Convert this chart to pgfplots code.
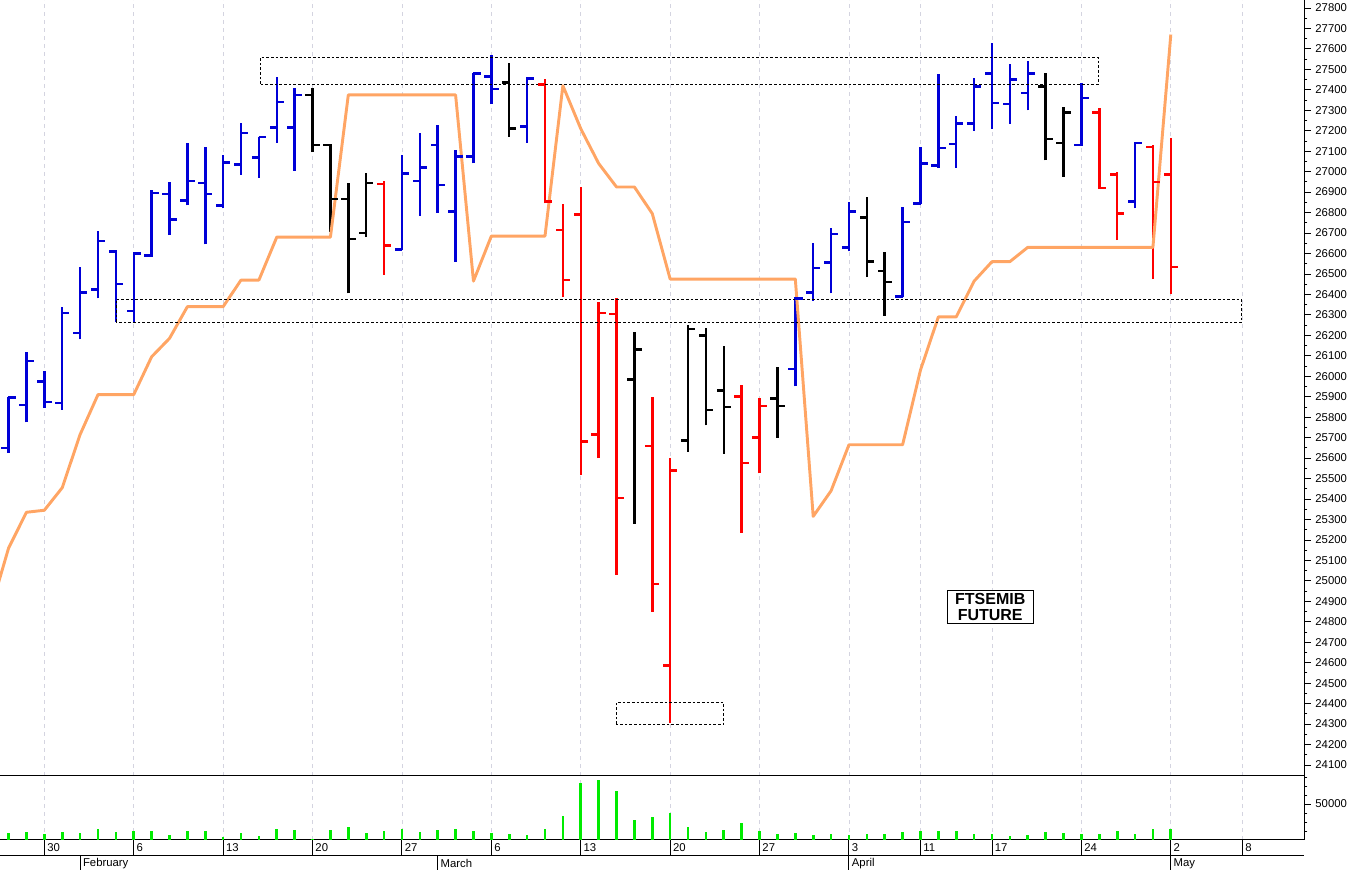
\documentclass[border=0pt]{standalone}
\usepackage{fontspec}
\setmainfont{Liberation Sans}
\usepackage{pgfplots}
\pgfplotsset{compat=1.18}
\usepackage{pgfplotstable}

\definecolor{barblue}{RGB}{0,0,215}
\definecolor{barred}{RGB}{255,0,0}
\definecolor{stopor}{RGB}{255,165,100}
\definecolor{volgreen}{RGB}{0,235,0}
\definecolor{gridc}{RGB}{212,212,224}

\pgfdeclareplotmark{otick}{\pgfpathmoveto{\pgfqpoint{0.3pt}{0pt}}\pgfpathlineto{\pgfqpoint{-5.4pt}{0pt}}\pgfusepathqstroke}
\pgfdeclareplotmark{ctick}{\pgfpathmoveto{\pgfqpoint{-0.3pt}{0pt}}\pgfpathlineto{\pgfqpoint{5.4pt}{0pt}}\pgfusepathqstroke}

\pgfplotsset{
  ohlcrange/.style={sharp plot, draw=none, no markers, forget plot,
    error bars/.cd, y dir=plus, y explicit, error mark=none,
    error bar style={draw=#1, line width=1.85pt}},
  ohlcopen/.style={only marks, color=#1, mark=otick, mark options={draw=#1, line width=1.85pt}, forget plot},
  ohlcclose/.style={only marks, color=#1, mark=ctick, mark options={draw=#1, line width=1.85pt}, forget plot},
}
\newcommand{\ohlc}[2]{%
  \addplot[ohlcrange=#2] table[x=i, y=L, y error expr=\thisrow{H}-\thisrow{L}] {#1};
  \addplot[ohlcopen=#2] table[x=i, y=O] {#1};
  \addplot[ohlcclose=#2] table[x=i, y=C] {#1};
}

\pgfplotstableread{
i O H L C
-2 25650 25900 25625 25895
-1 25860 26120 25775 26075
0 25975 26025 25845 25875
1 25870 26340 25835 26310
2 26210 26535 26180 26410
3 26425 26710 26380 26660
4 26610 26615 26265 26450
5 26320 26600 26265 26600
6 26590 26910 26585 26895
7 26890 26950 26690 26765
8 26860 27140 26835 26955
9 26945 27120 26645 26890
10 26835 27080 26820 27045
11 27035 27240 26985 27190
12 27070 27170 26970 27170
13 27215 27465 27140 27340
14 27215 27410 27005 27375
20 26620 27080 26615 26990
21 26955 27190 26785 27020
22 27130 27230 26800 26935
23 26805 27105 26560 27075
24 27075 27480 27040 27480
25 27465 27570 27330 27405
27 27220 27465 27140 27455
42 26035 26385 25950 26380
43 26410 26650 26370 26530
44 26555 26725 26405 26695
45 26630 26850 26610 26805
48 26390 26825 26385 26755
49 26845 27120 26840 27040
50 27030 27475 27020 27115
51 27135 27270 27020 27235
52 27235 27460 27200 27415
53 27480 27630 27210 27335
54 27330 27525 27235 27450
55 27385 27540 27300 27480
58 27130 27435 27125 27360
61 26855 27145 26820 27140
}\bluebars

\pgfplotstableread{
i O H L C
15 27375 27410 27095 27130
16 27130 27135 26705 26865
17 26865 26945 26405 26670
18 26700 26995 26680 26945
26 27435 27530 27170 27210
33 25985 26215 25280 26130
36 25685 26250 25630 26230
37 26200 26235 25760 25835
38 25930 26150 25620 25850
41 25890 26045 25700 25855
46 26775 26875 26485 26560
47 26515 26605 26295 26460
56 27415 27480 27055 27160
57 27140 27315 26975 27290
}\blackbars

\pgfplotstableread{
i O H L C
19 26940 26955 26495 26640
28 27425 27455 26845 26855
29 26715 26840 26385 26470
30 26790 26925 25515 25680
31 25715 26365 25600 26310
32 26305 26380 25030 25405
34 25660 25900 24850 24985
35 24585 25600 24305 25540
39 25900 25955 25235 25575
40 25700 25895 25525 25855
59 27290 27310 26915 26920
60 26985 27000 26665 26795
62 27120 27130 26475 26950
63 26985 27165 26400 26535
}\redbars

\pgfplotstableread{
i v
-3 24860
-2 25160
-1 25335
0 25345
1 25455
2 25715
3 25910
4 25910
5 25910
6 26095
7 26185
8 26340
9 26340
10 26340
11 26470
12 26470
13 26680
14 26680
15 26680
16 26680
17 27375
18 27375
19 27375
20 27375
21 27375
22 27375
23 27375
24 26465
25 26685
26 26685
27 26685
28 26685
29 27420
30 27210
31 27040
32 26925
33 26925
34 26795
35 26475
36 26475
37 26475
38 26475
39 26475
40 26475
41 26475
42 26475
43 25315
44 25440
45 25665
46 25665
47 25665
48 25665
49 26030
50 26290
51 26290
52 26465
53 26560
54 26560
55 26630
56 26630
57 26630
58 26630
59 26630
60 26630
61 26630
62 26630
63 27670
}\stopline

\pgfplotstableread{
i v
-2 9300
-1 11100
0 8300
1 11100
2 9300
3 15700
4 11100
5 12100
6 12500
7 6900
8 12100
9 12100
10 4200
11 9300
12 6000
13 15300
14 13500
15 1400
16 13900
17 17600
18 9300
19 12500
20 14900
21 11100
22 13900
23 14900
24 12100
25 9700
26 7900
27 6500
28 15700
29 33300
30 79600
31 83300
32 68100
33 27800
34 31900
35 37500
36 18100
37 11100
38 13500
39 24000
40 12100
41 8300
42 9300
43 6900
44 8300
45 6500
46 8300
47 8300
48 11100
49 12100
50 12500
51 12100
52 8300
53 8300
54 6000
55 6500
56 11100
57 9700
58 8300
59 8300
60 12100
61 7900
62 15300
63 14900
}\volume

\pgfplotsset{
  chartbase/.style={
    scale only axis, width=978pt,
    xmin=-2.48, xmax=70.45,
    axis x line*=bottom, axis y line*=right,
    axis line style={black, line width=0.75pt},
    xtick={0,5,10,15,20,25,30,35,40,45,49,53,58,63,67},
    xticklabels={}, x tick style={draw=none},
    xmajorgrids,
    major x grid style={gridc, line width=0.6pt, dash pattern=on 3pt off 3pt},
    tick align=outside, major tick length=5pt, minor tick length=2.5pt,
    y tick style={black, line width=0.6pt},
    scaled y ticks=false,
    yticklabel style={font=\fontsize{8.5}{10}\selectfont, black,
      /pgf/number format/.cd, set thousands separator={}, assume math mode=true},
  }
}

\newcommand{\datefont}{\fontsize{8.5}{10}\selectfont}

\begin{document}
\begin{tikzpicture}
\useasboundingbox (0,0) rectangle (1014pt,652.5pt);

% price panel
\begin{axis}[chartbase,
  at={(0pt,70.5pt)}, anchor=south west, height=582pt,
  ymin=24046, ymax=27839,
  ytick={24100,24200,...,27800}, minor y tick num=1,
]
\ohlc{\bluebars}{barblue}
\ohlc{\blackbars}{black}
\ohlc{\redbars}{barred}
\addplot[stopor, line width=2.2pt, line join=round, no markers] table[x=i, y=v] {\stopline};

\draw[black, line width=0.6pt, dash pattern=on 2pt off 1.5pt]
  (axis cs:12.09,27428) rectangle (axis cs:58.95,27559);
\draw[black, line width=0.6pt, dash pattern=on 2pt off 1.5pt]
  (axis cs:4.01,26265) rectangle (axis cs:66.97,26376);
\draw[black, line width=0.6pt, dash pattern=on 2pt off 1.5pt]
  (axis cs:31.99,24300) rectangle (axis cs:38.0,24406);

\node[draw=black, line width=0.75pt, fill=white, align=center, inner sep=0pt,
  minimum width=64.5pt, minimum height=24.75pt,
  font=\fontsize{12}{12.2}\selectfont\bfseries] at (axis cs:52.9,24872) {FTSEMIB\\FUTURE};
\end{axis}

% volume panel
\begin{axis}[chartbase,
  at={(0pt,22.5pt)}, anchor=south west, height=48pt,
  ymin=0, ymax=88900, clip=false,
  ytick={50000}, minor ytick={12500,25000,37500,62500,75000,87500},
]
\addplot[ycomb, volgreen, line width=2pt, no markers] table[x=i, y=v] {\volume};

% date row separators and labels
\draw[black, line width=0.75pt] ([yshift=-12pt]axis cs:-2.48,0) -- ([yshift=-12pt]axis cs:70.45,0);
\draw[black, line width=0.75pt] (axis cs:0,0) -- ([yshift=-12pt]axis cs:0,0);
\draw[black, line width=0.75pt] (axis cs:5,0) -- ([yshift=-12pt]axis cs:5,0);
\draw[black, line width=0.75pt] (axis cs:10,0) -- ([yshift=-12pt]axis cs:10,0);
\draw[black, line width=0.75pt] (axis cs:15,0) -- ([yshift=-12pt]axis cs:15,0);
\draw[black, line width=0.75pt] (axis cs:20,0) -- ([yshift=-12pt]axis cs:20,0);
\draw[black, line width=0.75pt] (axis cs:25,0) -- ([yshift=-12pt]axis cs:25,0);
\draw[black, line width=0.75pt] (axis cs:30,0) -- ([yshift=-12pt]axis cs:30,0);
\draw[black, line width=0.75pt] (axis cs:35,0) -- ([yshift=-12pt]axis cs:35,0);
\draw[black, line width=0.75pt] (axis cs:40,0) -- ([yshift=-12pt]axis cs:40,0);
\draw[black, line width=0.75pt] (axis cs:45,0) -- ([yshift=-12pt]axis cs:45,0);
\draw[black, line width=0.75pt] (axis cs:49,0) -- ([yshift=-12pt]axis cs:49,0);
\draw[black, line width=0.75pt] (axis cs:53,0) -- ([yshift=-12pt]axis cs:53,0);
\draw[black, line width=0.75pt] (axis cs:58,0) -- ([yshift=-12pt]axis cs:58,0);
\draw[black, line width=0.75pt] (axis cs:63,0) -- ([yshift=-12pt]axis cs:63,0);
\draw[black, line width=0.75pt] (axis cs:67,0) -- ([yshift=-12pt]axis cs:67,0);

\node[anchor=west, inner sep=0pt, font=\datefont] at ([xshift=2pt,yshift=-6pt]axis cs:0,0) {30};
\node[anchor=west, inner sep=0pt, font=\datefont] at ([xshift=2pt,yshift=-6pt]axis cs:5,0) {6};
\node[anchor=west, inner sep=0pt, font=\datefont] at ([xshift=2pt,yshift=-6pt]axis cs:10,0) {13};
\node[anchor=west, inner sep=0pt, font=\datefont] at ([xshift=2pt,yshift=-6pt]axis cs:15,0) {20};
\node[anchor=west, inner sep=0pt, font=\datefont] at ([xshift=2pt,yshift=-6pt]axis cs:20,0) {27};
\node[anchor=west, inner sep=0pt, font=\datefont] at ([xshift=2pt,yshift=-6pt]axis cs:25,0) {6};
\node[anchor=west, inner sep=0pt, font=\datefont] at ([xshift=2pt,yshift=-6pt]axis cs:30,0) {13};
\node[anchor=west, inner sep=0pt, font=\datefont] at ([xshift=2pt,yshift=-6pt]axis cs:35,0) {20};
\node[anchor=west, inner sep=0pt, font=\datefont] at ([xshift=2pt,yshift=-6pt]axis cs:40,0) {27};
\node[anchor=west, inner sep=0pt, font=\datefont] at ([xshift=2pt,yshift=-6pt]axis cs:45,0) {3};
\node[anchor=west, inner sep=0pt, font=\datefont] at ([xshift=2pt,yshift=-6pt]axis cs:49,0) {11};
\node[anchor=west, inner sep=0pt, font=\datefont] at ([xshift=2pt,yshift=-6pt]axis cs:53,0) {17};
\node[anchor=west, inner sep=0pt, font=\datefont] at ([xshift=2pt,yshift=-6pt]axis cs:58,0) {24};
\node[anchor=west, inner sep=0pt, font=\datefont] at ([xshift=2pt,yshift=-6pt]axis cs:63,0) {2};
\node[anchor=west, inner sep=0pt, font=\datefont] at ([xshift=2pt,yshift=-6pt]axis cs:67,0) {8};

% month row
\draw[black, line width=0.75pt] ([yshift=-12pt]axis cs:2,0) -- ([yshift=-23pt]axis cs:2,0);
\draw[black, line width=0.75pt] ([yshift=-12pt]axis cs:22,0) -- ([yshift=-23pt]axis cs:22,0);
\draw[black, line width=0.75pt] ([yshift=-12pt]axis cs:45,0) -- ([yshift=-23pt]axis cs:45,0);
\draw[black, line width=0.75pt] ([yshift=-12pt]axis cs:63,0) -- ([yshift=-23pt]axis cs:63,0);
\node[anchor=west, inner sep=0pt, font=\datefont] at ([xshift=2pt,yshift=-17.5pt]axis cs:2,0) {February};
\node[anchor=west, inner sep=0pt, font=\datefont] at ([xshift=2pt,yshift=-17.5pt]axis cs:22,0) {March};
\node[anchor=west, inner sep=0pt, font=\datefont] at ([xshift=2pt,yshift=-17.5pt]axis cs:45,0) {April};
\node[anchor=west, inner sep=0pt, font=\datefont] at ([xshift=2pt,yshift=-17.5pt]axis cs:63,0) {May};
\end{axis}
\end{tikzpicture}
\end{document}
